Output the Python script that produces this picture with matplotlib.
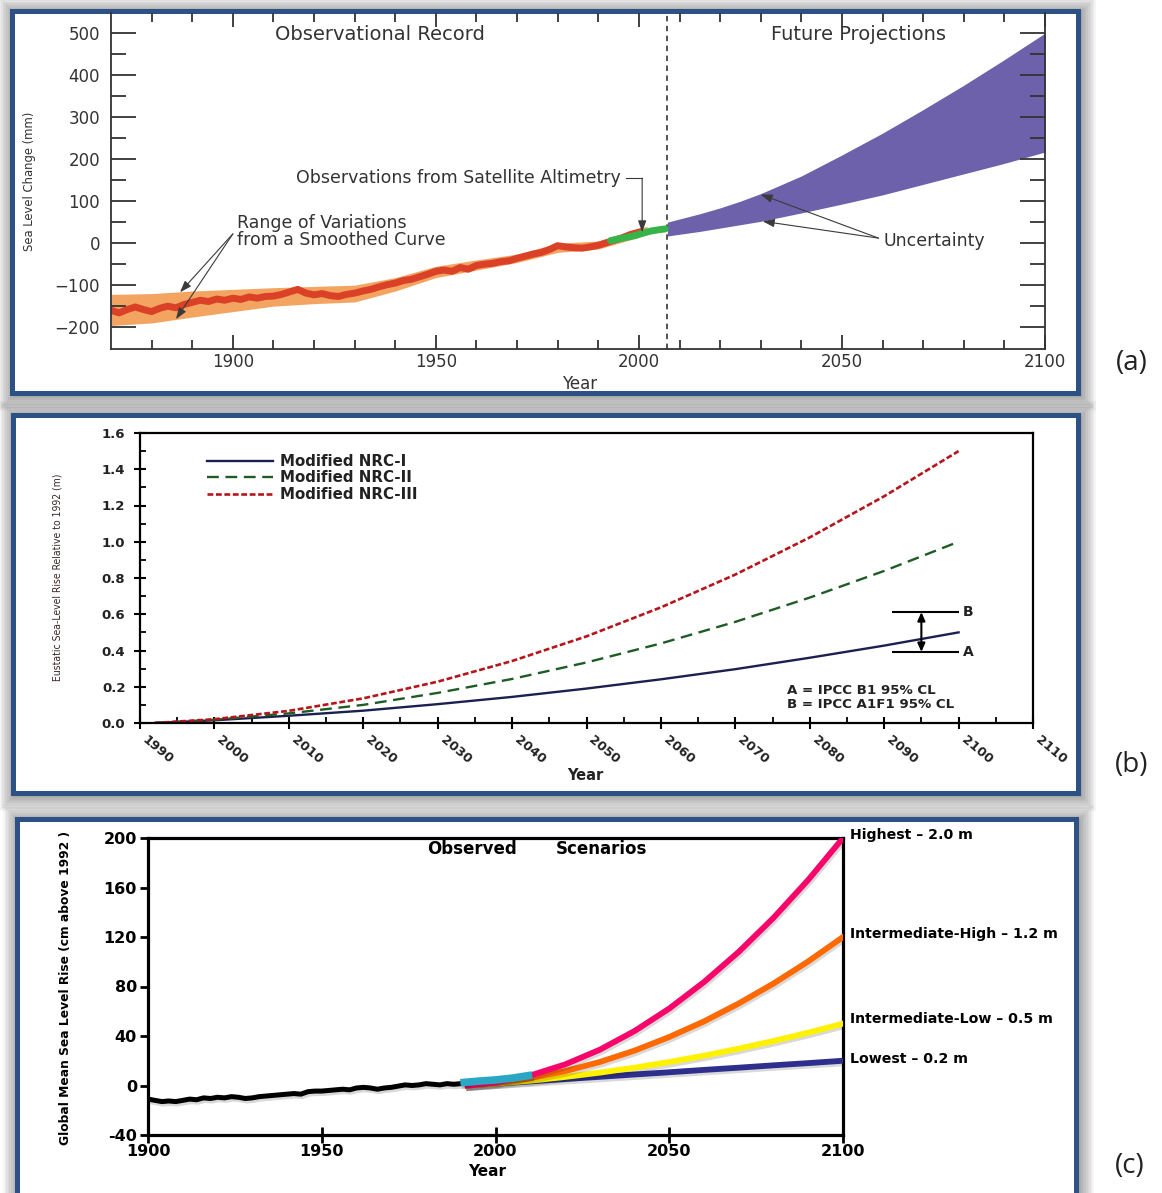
import matplotlib
matplotlib.use('Agg')
import matplotlib.pyplot as plt
from matplotlib.patches import Rectangle
import matplotlib.patheffects as pe
import numpy as np

plt.rcParams['font.family'] = ['DejaVu Sans']

# ---------------- DATA ----------------
# Panel (a): observational record (mm)
obs_years = list(range(1870, 2001, 2))
obs_mm = [-160, -166, -158, -152, -158, -163, -155, -150, -154, -146,
          -141, -136, -139, -133, -136, -131, -134, -128, -131, -127,
          -126, -122, -116, -110, -119, -123, -120, -125, -127, -122,
          -119, -114, -110, -104, -99, -95, -89, -86, -80, -74,
          -67, -64, -67, -58, -62, -53, -50, -48, -44, -42,
          -36, -31, -26, -22, -15, -6, -9, -11, -12, -9,
          -5, 1, 7, 13, 21, 26]
band_years = [1870, 1880, 1890, 1900, 1910, 1920, 1930, 1940, 1950, 1960, 1970, 1980, 1990, 2000, 2002]
band_high = [-122, -120, -114, -110, -106, -103, -100, -82, -55, -40, -26, 0, 5, 36, 40]
band_low = [-196, -190, -176, -163, -150, -144, -140, -114, -82, -64, -46, -22, -14, 14, 20]
sat_years = [1993, 1995, 1997, 1999, 2001, 2003, 2005, 2006.5]
sat_mm = [6, 10, 14, 18, 24, 29, 32, 34]
proj_years = [2007, 2015, 2020, 2025, 2030, 2040, 2050, 2060, 2070, 2080, 2090, 2100]
proj_high = [50, 70, 84, 100, 118, 160, 210, 262, 318, 376, 437, 500]
proj_low = [17, 28, 36, 44, 52, 72, 93, 115, 140, 165, 190, 217]

# Panel (b): modified NRC curves (m)
nrc_years = [1992, 2000, 2010, 2020, 2030, 2040, 2050, 2060, 2070, 2080, 2090, 2100]
nrc1 = [0, 0.015, 0.040, 0.068, 0.104, 0.144, 0.190, 0.241, 0.297, 0.360, 0.427, 0.50]
nrc2 = [0, 0.018, 0.053, 0.100, 0.166, 0.243, 0.334, 0.439, 0.558, 0.692, 0.839, 1.00]
nrc3 = [0, 0.021, 0.067, 0.136, 0.228, 0.342, 0.478, 0.638, 0.819, 1.024, 1.251, 1.50]
nrc_labels = ['Modified NRC-I', 'Modified NRC-II', 'Modified NRC-III']
ipcc_A = 0.392
ipcc_B = 0.612

# Panel (c): observed + scenarios (cm above 1992)
obs_c_years = list(range(1900, 1993, 2))
obs_c_cm = [-11, -12, -13, -12.5, -13, -12, -11, -11.5, -10, -10.5,
            -9.5, -10, -9, -9.5, -10.5, -10, -9, -8.5, -8, -7.5,
            -7, -6.5, -7, -5, -4.5, -4.5, -4, -3.5, -3, -3.5,
            -2, -1.5, -2, -3, -2, -1.5, -0.5, 0.5, 0, 0.5,
            1.5, 1, 0.5, 1.5, 1, 1.5, 2.5]
sat_c_years = [1991, 1995, 2000, 2005, 2009.5]
sat_c_cm = [2.5, 3.5, 4.5, 6, 8]
scen_years = [1992, 2000, 2010, 2020, 2030, 2040, 2050, 2060, 2070, 2080, 2090, 2100]
scen_lowest = [0, 1.5, 3.3, 5.2, 7.0, 8.9, 10.7, 12.6, 14.4, 16.3, 18.1, 20]
scen_intlow = [0, 1.5, 3.9, 6.9, 10.4, 14.4, 19.0, 24.1, 29.8, 36.0, 42.7, 50]
scen_inthigh = [0, 1.9, 5.9, 11.6, 19.0, 28.2, 39.2, 51.8, 66.3, 82.4, 100.3, 120]
scen_highest = [0, 2.4, 8.1, 17.0, 28.9, 44.0, 62.2, 83.6, 108.0, 135.5, 166.2, 200]
scen_labels = ['Highest – 2.0 m', 'Intermediate-High – 1.2 m', 'Intermediate-Low – 0.5 m', 'Lowest – 0.2 m']

# ---------------- FIGURE ----------------
W, H = 1162, 1193
fig = plt.figure(figsize=(W / 100, H / 100), dpi=100)
fig.patch.set_facecolor('white')


def fx(px):
    return px / W


def fy(py):
    return 1 - py / H


def axrect(l, t, r, b):
    return [fx(l), fy(b), (r - l) / W, (b - t) / H]


bg = fig.add_axes([0, 0, 1, 1], zorder=-10)
bg.set_xlim(0, W)
bg.set_ylim(H, 0)
bg.axis('off')


def frame(x0, y0, x1, y1):
    for k in range(1, 11):
        bg.add_patch(Rectangle((x0 - k * 1.6 + 2, y0 - k * 1.6 + 2), (x1 - x0) + 3.2 * k,
                               (y1 - y0) + 3.2 * k, facecolor='black', alpha=0.04, lw=0))
    bg.add_patch(Rectangle((x0, y0), x1 - x0, y1 - y0, facecolor='white',
                           edgecolor='#2B5185', lw=3.6))


frame(12, 11, 1078, 393)
frame(13, 415, 1078, 793)
frame(17, 819, 1076, 1215)

# ---------------- PANEL (a) ----------------
tcol = '#333333'
axA = fig.add_axes(axrect(111, 13, 1045, 349))
axA.set_facecolor('none')
axA.set_xlim(1870, 2100)
axA.set_ylim(-252, 548)
axA.fill_between(band_years, band_low, band_high, color='#F4A461', lw=0, zorder=1)
axA.plot(obs_years, obs_mm, color='#DA4126', lw=5, solid_joinstyle='round', zorder=2)
axA.plot(sat_years, sat_mm, color='#36B44A', lw=5, solid_capstyle='round', zorder=2.2)
axA.fill_between(proj_years, proj_low, proj_high, color='#6C61AA', lw=0, zorder=1)
axA.axvline(2007, color='#444444', ls=(0, (3, 2.5)), lw=1.3, zorder=1.5)

axA.set_xticks([1900, 1950, 2000, 2050, 2100])
axA.set_xticks(np.arange(1880, 2100, 10), minor=True)
axA.set_yticks(range(-200, 501, 100))
axA.set_yticks(np.arange(-150, 501, 100), minor=True)
axA.tick_params(which='both', direction='in', top=True, right=True, color=tcol, width=1.3,
                labelcolor=tcol, labelsize=12)
axA.tick_params(axis='y', which='major', length=18, pad=8)
axA.tick_params(axis='y', which='minor', length=11)
axA.tick_params(axis='x', which='major', length=10, pad=3)
axA.tick_params(axis='x', which='minor', length=6.5)
axA.spines['top'].set_visible(False)
for s in ['left', 'right', 'bottom']:
    axA.spines[s].set_color(tcol)
    axA.spines[s].set_linewidth(1.3)

axA.text(1936.3, 496, 'Observational Record', ha='center', va='center', fontsize=14, color=tcol)
axA.text(2054, 496, 'Future Projections', ha='center', va='center', fontsize=14, color=tcol)
axA.text(1901, 27, 'Range of Variations\nfrom a Smoothed Curve', ha='left', va='center',
         fontsize=12.5, color=tcol, linespacing=0.95)
axA.text(1995.6, 155, 'Observations from Satellite Altimetry', ha='right', va='center',
         fontsize=12.5, color=tcol)
axA.text(2060.2, 6, 'Uncertainty', ha='left', va='center', fontsize=12.5, color=tcol)
akw = dict(arrowstyle='-|>,head_length=0.7,head_width=0.25', color='#3a3a3a', lw=0.8,
           shrinkA=0, shrinkB=0)
axA.annotate('', xy=(1887, -117), xytext=(1900, 22), arrowprops=akw)
axA.annotate('', xy=(1886, -181), xytext=(1900, 22), arrowprops=akw)
axA.annotate('', xy=(2030, 116), xytext=(2059, 12), arrowprops=akw)
axA.annotate('', xy=(2030.5, 52), xytext=(2059, 12), arrowprops=akw)
axA.plot([1996.8, 2000.8], [155, 155], color='#3a3a3a', lw=0.8)
axA.annotate('', xy=(2000.8, 26), xytext=(2000.8, 155), arrowprops=akw)

fig.text(fx(30), fy(181), 'Sea Level Change (mm)', rotation=90, ha='center', va='center',
         fontsize=9.3, color=tcol, family='DejaVu Sans', fontstretch='condensed')
fig.text(fx(580), fy(384), 'Year', ha='center', va='center', fontsize=12, color=tcol)
fig.text(fx(1132), fy(363), '(a)', ha='center', va='center', fontsize=20,
         family=['Open Sans', 'DejaVu Sans'], color='#222222')

# ---------------- PANEL (b) ----------------
axB = fig.add_axes(axrect(140, 433, 1033, 723))
axB.set_facecolor('none')
axB.set_xlim(1990, 2110)
axB.set_ylim(0, 1.6)
l1, = axB.plot(nrc_years, nrc1, color='#1B2050', lw=1.7, label=nrc_labels[0])
l2, = axB.plot(nrc_years, nrc2, color='#1F5C25', lw=1.7, ls=(0, (5, 2.8)), label=nrc_labels[1])
l3, = axB.plot(nrc_years, nrc3, color='#B5161B', lw=1.9, ls=(0, (2.2, 1.0)), label=nrc_labels[2])

axB.hlines([ipcc_B, ipcc_A], 2091, 2100, color='black', lw=1.5)
axB.annotate('', xy=(2095, ipcc_B), xytext=(2095, ipcc_A),
             arrowprops=dict(arrowstyle='<|-|>,head_length=0.5,head_width=0.22', color='black',
                             lw=1.5, shrinkA=0, shrinkB=0))
axB.text(2100.6, ipcc_B, 'B', ha='left', va='center', fontsize=10, weight='bold', color='#222')
axB.text(2100.6, ipcc_A, 'A', ha='left', va='center', fontsize=10, weight='bold', color='#222')
axB.text(2077, 0.180, 'A = IPCC B1 95% CL', ha='left', va='center', fontsize=9.6,
         weight='bold', color='#222')
axB.text(2077, 0.102, 'B = IPCC A1F1 95% CL', ha='left', va='center', fontsize=9.6,
         weight='bold', color='#222')

axB.legend(handles=[l1, l2, l3], loc='upper left', bbox_to_anchor=(0.075, 0.928),
           frameon=False, handlelength=4.4, handletextpad=0.5, labelspacing=0.1,
           borderaxespad=0, borderpad=0, prop=dict(weight='bold', size=10.8),
           labelcolor='#222222')

axB.set_xticks(np.arange(1990, 2111, 10))
axB.set_xticks(np.arange(1995, 2110, 10), minor=True)
axB.set_yticks(np.arange(0, 1.61, 0.2))
axB.set_yticks(np.arange(0.1, 1.6, 0.2), minor=True)
axB.set_yticklabels([f'{v:.1f}' for v in np.arange(0, 1.61, 0.2)], fontsize=9.5, weight='bold',
                    color='#222')
axB.set_xticklabels([str(v) for v in range(1990, 2111, 10)], fontsize=9.3, weight='bold',
                    color='#222', rotation=-40, ha='left', va='top')
axB.tick_params(which='major', direction='inout', length=9, width=1.5, color='black')
axB.tick_params(which='minor', direction='in', length=4, width=1.3, color='black')
axB.tick_params(axis='y', pad=6)
axB.tick_params(axis='x', pad=3)
for s in axB.spines.values():
    s.set_linewidth(1.6)
    s.set_color('black')

fig.text(fx(58), fy(577), 'Eustatic Sea-Level Rise Relative to 1992 (m)', rotation=90,
         ha='center', va='center', fontsize=7.5, color='#3a2626', family='DejaVu Sans',
         fontstretch='condensed')
fig.text(fx(585), fy(776), 'Year', ha='center', va='center', fontsize=10.5, weight='bold',
         color='#222')
fig.text(fx(1132), fy(765), '(b)', ha='center', va='center', fontsize=20,
         family=['Open Sans', 'DejaVu Sans'], color='#222222')

# ---------------- PANEL (c) ----------------
axC = fig.add_axes(axrect(148, 838, 843, 1135))
axC.set_facecolor('none')
axC.set_xlim(1900, 2100)
axC.set_ylim(-40, 200)
shadow = [pe.SimpleLineShadow(offset=(1.0, -1.8), shadow_color='black', alpha=0.15), pe.Normal()]
axC.plot(scen_years, scen_lowest, color='#2E2F8C', lw=4.2, path_effects=shadow, zorder=3)
axC.plot(scen_years, scen_intlow, color='#FFF200', lw=4.2, path_effects=shadow, zorder=3.1)
axC.plot(scen_years, scen_inthigh, color='#FF6A00', lw=4.2, path_effects=shadow, zorder=3.2)
axC.plot(scen_years, scen_highest, color='#F7056A', lw=4.2, path_effects=shadow, zorder=3.3)
axC.plot(obs_c_years, obs_c_cm, color='black', lw=3.6, path_effects=shadow, zorder=3.5)
axC.plot(sat_c_years, sat_c_cm, color='#2AA7C5', lw=5.5, path_effects=shadow, zorder=3.6)

axC.set_xticks([1900, 1950, 2000, 2050, 2100])
axC.set_yticks(range(-40, 201, 40))
axC.set_xticklabels(['1900', '1950', '2000', '2050', '2100'], fontsize=11.5, weight='bold')
axC.set_yticklabels([str(v) for v in range(-40, 201, 40)], fontsize=11.5, weight='bold')
axC.tick_params(axis='y', direction='out', length=6, width=2, pad=2)
axC.tick_params(axis='x', direction='inout', length=11, width=2, pad=1)
for s in axC.spines.values():
    s.set_linewidth(2.3)

axC.text(1993.2, 191, 'Observed', ha='center', va='center', fontsize=12, weight='bold')
axC.text(2030.4, 191, 'Scenarios', ha='center', va='center', fontsize=12, weight='bold')
for lab, py in zip(scen_labels, [835, 934, 1019, 1059]):
    fig.text(fx(850), fy(py), lab, ha='left', va='center', fontsize=10.2, weight='bold')

fig.text(fx(66), fy(988), 'Global Mean Sea Level Rise (cm above 1992 )', rotation=90,
         ha='center', va='center', fontsize=8.8, weight='bold')
fig.text(fx(487), fy(1171), 'Year', ha='center', va='center', fontsize=11, weight='bold')
fig.text(fx(1130), fy(1166), '(c)', ha='center', va='center', fontsize=20,
         family=['Open Sans', 'DejaVu Sans'], color='#222222')

fig.savefig('out.png', dpi=100, facecolor='white')
